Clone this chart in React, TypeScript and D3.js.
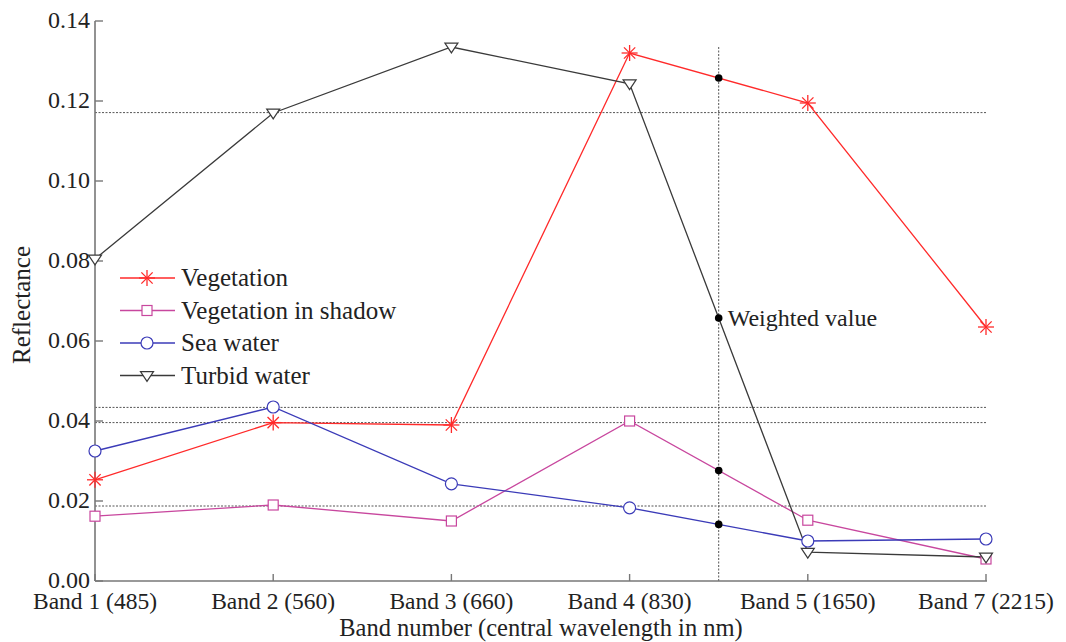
import React, { useEffect, useRef } from "react";
import * as d3 from "d3";

const bands = ["Band 1 (485)", "Band 2 (560)", "Band 3 (660)", "Band 4 (830)", "Band 5 (1650)", "Band 7 (2215)"];
const vegetation = [0.0253, 0.0396, 0.039, 0.132, 0.1195, 0.0635];
const vegetationShadow = [0.0162, 0.019, 0.015, 0.040, 0.0152, 0.0055];
const seaWater = [0.0325, 0.0435, 0.0243, 0.0183, 0.010, 0.0105];
const turbidWater = [0.0805, 0.117, 0.1335, 0.1243, 0.0072, 0.006];
const yTicks = [0, 0.02, 0.04, 0.06, 0.08, 0.1, 0.12, 0.14];
const referenceLevels = [0.1171, 0.0434, 0.0396, 0.01875];
const weightedPosition = 3.5; // midpoint between Band 4 and Band 5
const weightedTop = 0.1335;

type Series = { name: string; values: number[]; color: string; marker: string };
const seriesList: Series[] = [
  { name: "Vegetation", values: vegetation, color: "#ff2a2a", marker: "star" },
  { name: "Vegetation in shadow", values: vegetationShadow, color: "#c8479e", marker: "square" },
  { name: "Sea water", values: seaWater, color: "#3b3bb8", marker: "circle" },
  { name: "Turbid water", values: turbidWater, color: "#3a3a3a", marker: "triangle" },
];

const W = 1066, H = 642;
const FONT = "Liberation Serif, Times New Roman, serif";

function drawMarker(g: any, type: string, x: number, y: number, color: string) {
  if (type === "star") {
    const r = 8;
    for (let k = 0; k < 4; k++) {
      const a = (Math.PI / 4) * k;
      g.append("line")
        .attr("x1", x - r * Math.cos(a)).attr("y1", y - r * Math.sin(a))
        .attr("x2", x + r * Math.cos(a)).attr("y2", y + r * Math.sin(a))
        .attr("stroke", color).attr("stroke-width", 1.3);
    }
  } else if (type === "square") {
    g.append("rect").attr("x", x - 5).attr("y", y - 5).attr("width", 10).attr("height", 10)
      .attr("fill", "white").attr("stroke", color).attr("stroke-width", 1.2);
  } else if (type === "circle") {
    g.append("circle").attr("cx", x).attr("cy", y).attr("r", 6)
      .attr("fill", "white").attr("stroke", color).attr("stroke-width", 1.2);
  } else if (type === "triangle") {
    const s = 6.5;
    g.append("path").attr("d", `M${x - s},${y - s * 0.6}L${x + s},${y - s * 0.6}L${x},${y + s * 0.9}Z`)
      .attr("fill", "white").attr("stroke", color).attr("stroke-width", 1.2);
  }
}

export default function App() {
  const ref = useRef<SVGSVGElement>(null);
  useEffect(() => {
    const svg = d3.select(ref.current!);
    svg.selectAll("*").remove();
    const left = 95, right = 986, top = 21, bottom = 581;
    const x = d3.scaleLinear().domain([0, bands.length - 1]).range([left, right]);
    const y = d3.scaleLinear().domain([0, 0.14]).range([bottom, top]);
    const g = svg.append("g") as any;

    referenceLevels.forEach((v) => {
      g.append("line").attr("x1", left).attr("x2", right).attr("y1", y(v)).attr("y2", y(v))
        .attr("stroke", "#555").attr("stroke-width", 1).attr("stroke-dasharray", "2,1.5");
    });
    g.append("line").attr("x1", x(weightedPosition)).attr("x2", x(weightedPosition))
      .attr("y1", y(weightedTop)).attr("y2", bottom)
      .attr("stroke", "#555").attr("stroke-width", 1).attr("stroke-dasharray", "2,1.5");

    g.append("line").attr("x1", left).attr("x2", left).attr("y1", top).attr("y2", bottom)
      .attr("stroke", "#777").attr("stroke-width", 1.6);
    g.append("line").attr("x1", left).attr("x2", right + 1).attr("y1", bottom).attr("y2", bottom)
      .attr("stroke", "#777").attr("stroke-width", 1.6);
    yTicks.forEach((t) => {
      g.append("line").attr("x1", left).attr("x2", left + 8).attr("y1", y(t)).attr("y2", y(t))
        .attr("stroke", "#777").attr("stroke-width", 1.4);
      g.append("text").attr("x", left - 5).attr("y", y(t) + 7).attr("text-anchor", "end")
        .attr("font-family", FONT).attr("font-size", 24).attr("fill", "#222")
        .text(d3.format(".2f")(t));
    });
    bands.forEach((b, i) => {
      g.append("line").attr("x1", x(i)).attr("x2", x(i)).attr("y1", bottom).attr("y2", bottom - 7)
        .attr("stroke", "#777").attr("stroke-width", 1.4);
      g.append("text").attr("x", x(i)).attr("y", 609).attr("text-anchor", "middle")
        .attr("font-family", FONT).attr("font-size", 23.5).attr("fill", "#222").text(b);
    });
    g.append("text").attr("x", 541).attr("y", 636).attr("text-anchor", "middle")
      .attr("font-family", FONT).attr("font-size", 24.5).attr("fill", "#222")
      .text("Band number (central wavelength in nm)");
    g.append("text").attr("transform", "translate(30,305) rotate(-90)").attr("text-anchor", "middle")
      .attr("font-family", FONT).attr("font-size", 25).attr("fill", "#222").text("Reflectance");

    const line = d3.line<number>().x((_, i) => x(i)).y((d) => y(d));
    seriesList.forEach((s) => {
      g.append("path").attr("d", line(s.values)).attr("fill", "none")
        .attr("stroke", s.color).attr("stroke-width", 1.3);
    });
    seriesList.forEach((s) => {
      s.values.forEach((v, i) => drawMarker(g, s.marker, x(i), y(v), s.color));
    });

    seriesList.forEach((s) => {
      const wv = (s.values[3] + s.values[4]) / 2;
      g.append("circle").attr("cx", x(weightedPosition)).attr("cy", y(wv)).attr("r", 3.8).attr("fill", "#000");
    });
    const turbidW = (turbidWater[3] + turbidWater[4]) / 2;
    g.append("text").attr("x", x(weightedPosition) + 9).attr("y", y(turbidW) + 8)
      .attr("font-family", FONT).attr("font-size", 24).attr("fill", "#222").text("Weighted value");

    seriesList.forEach((s, i) => {
      const ly = 278 + i * 32.5;
      g.append("line").attr("x1", 120).attr("x2", 175).attr("y1", ly).attr("y2", ly)
        .attr("stroke", s.color).attr("stroke-width", 1.3);
      drawMarker(g, s.marker, 147, ly, s.color);
      g.append("text").attr("x", 181).attr("y", ly + 8).attr("font-family", FONT)
        .attr("font-size", 25).attr("fill", "#222").text(s.name);
    });
  }, []);
  return (
    <svg ref={ref} width={W} height={H} style={{ position: "absolute", left: 0, top: 0, background: "white" }} />
  );
}
